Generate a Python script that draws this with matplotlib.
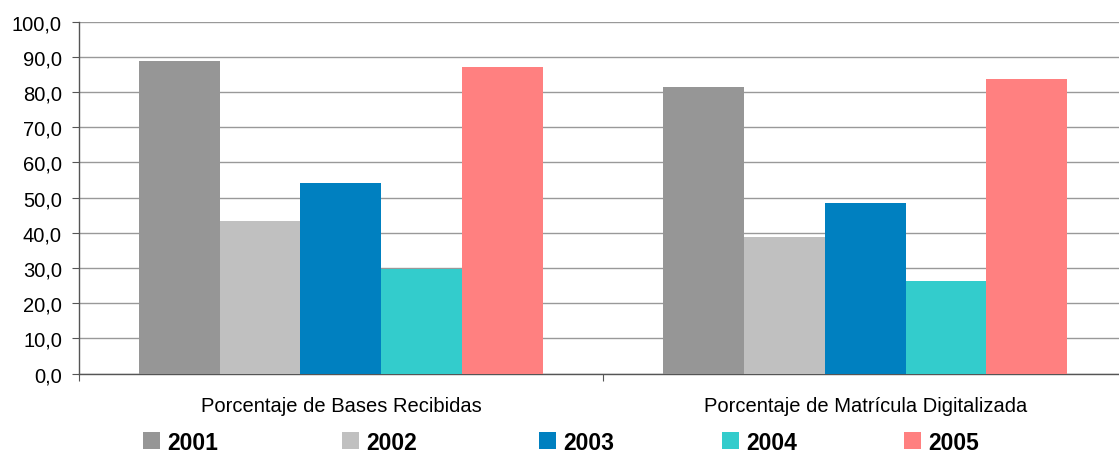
import matplotlib
matplotlib.use("Agg")
import matplotlib.pyplot as plt
from matplotlib.ticker import FuncFormatter, MultipleLocator, FixedLocator
import numpy as np

plt.rcParams["font.family"] = ["Liberation Sans", "DejaVu Sans"]

categories = ["Porcentaje de Bases Recibidas", "Porcentaje de Matrícula Digitalizada"]
years = ["2001", "2002", "2003", "2004", "2005"]
values = {
    "2001": [88.8, 81.4],
    "2002": [43.3, 38.8],
    "2003": [54.2, 48.4],
    "2004": [29.7, 26.3],
    "2005": [87.1, 83.7],
}
colors = ["#969696", "#C0C0C0", "#0080C0", "#33CCCC", "#FF8080"]

fig = plt.figure(figsize=(11.19, 4.56), dpi=100)
# the plot area runs a little past the right edge of the picture
ax = fig.add_axes([0.0703, 0.1787, 0.9373, 0.7713])

x = np.arange(len(categories))
width = 0.154
bars = []
for i, (yr, col) in enumerate(zip(years, colors)):
    offset = (i - 2) * width
    bars.append(ax.bar(x + offset, values[yr], width=width, color=col, label=yr, zorder=3))

ax.set_xlim(-0.5, 1.5)
ax.set_ylim(0, 100)
ax.yaxis.set_major_locator(MultipleLocator(10))
ax.yaxis.set_major_formatter(FuncFormatter(lambda v, p: f"{v:.1f}".replace(".", ",")))
ax.grid(True, axis="y", color="#999999", linewidth=1.0, zorder=0)
ax.set_axisbelow(True)

# category boundaries as tick marks, labels centered on groups
ax.xaxis.set_major_locator(FixedLocator([-0.5, 0.5, 1.5]))
ax.xaxis.set_major_formatter(FuncFormatter(lambda v, p: ""))
ax.xaxis.set_minor_locator(FixedLocator(x))
ax.set_xticklabels(categories, minor=True)
ax.tick_params(axis="x", which="major", direction="out", length=5, color="#555555")
ax.tick_params(axis="x", which="minor", length=0, pad=16, labelsize=14.5)
ax.tick_params(axis="y", direction="out", length=5, color="#555555", pad=7, labelsize=14.5)

for side in ["top", "right"]:
    ax.spines[side].set_visible(False)
for side in ["left", "bottom"]:
    ax.spines[side].set_color("#555555")
    ax.spines[side].set_linewidth(1.0)

# one small legend per year, spaced like the original
legend_x = [0.1278, 0.3056, 0.4817, 0.6452, 0.8079]
for b, yr, lx in zip(bars, years, legend_x):
    lg = fig.legend(handles=[b], labels=[yr], loc="center left", bbox_to_anchor=(lx, 0.028),
                    frameon=False, prop={"weight": "bold", "size": 16.5},
                    handlelength=0.75, handleheight=0.75, handletextpad=0.29,
                    borderaxespad=0, borderpad=0)

fig.savefig("out.png", dpi=100)
